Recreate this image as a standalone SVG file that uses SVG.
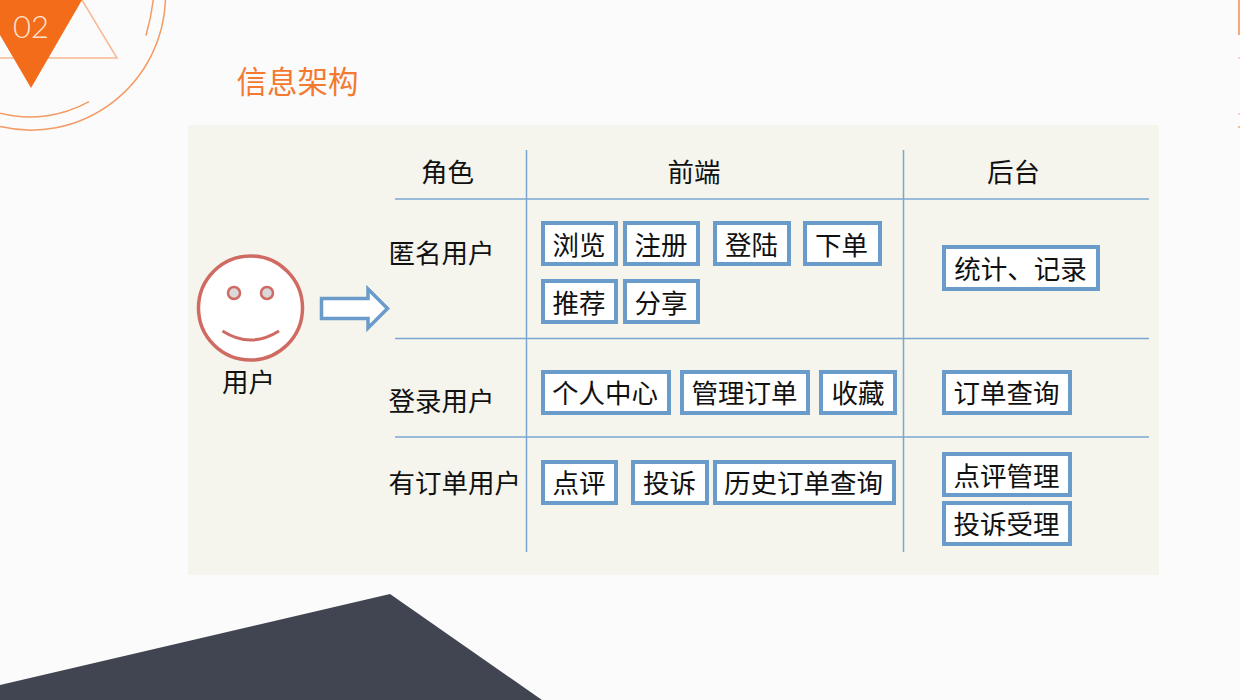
<svg xmlns="http://www.w3.org/2000/svg" width="1240" height="700" viewBox="0 0 1240 700">
<style>
text{font-family:"Noto Sans CJK SC","Noto Sans",sans-serif;fill:#111;font-size:26.500px}
.b{fill:#fff;stroke:#6a9ccb;stroke-width:4}
.l{stroke:#7ba6d2;stroke-width:1.500;fill:none}
.o{fill:none;stroke:#f49a64;stroke-width:1.500}
.m{text-anchor:middle}
</style>
<rect width="1240" height="700" fill="#fbfbfb"/>
<g id="decor">
<path class="o" d="M165.500 0A135 135 0 0 1 0 126.600"/>
<path class="o" d="M0 113.300A122 122 0 0 0 89 101.700M146 35.500Q151 18 153.300 0"/>
<path d="M82 0L117 58H0" fill="none" stroke="#f8b892" stroke-width="1.500"/>
<path d="M0 0H82L31 88L0 35Z" fill="#f36c1a"/>
<text x="31" y="38" class="m" style="font-family:Lato,'Open Sans',sans-serif;font-weight:300;font-size:31px;fill:#fde3d2">02</text>
<text x="236.500" y="93" style="font-size:30.500px;font-weight:400;fill:#f37a30">信息架构</text>
<rect x="1238" y="0" width="2" height="35" fill="#f8a877"/>
<rect x="1238" y="57" width="2" height="2" fill="#fad5c0"/>
<rect x="1238" y="113" width="2" height="2" fill="#fad5c0"/>
<rect x="1238" y="126" width="2" height="2" fill="#f8bd98"/>
<path d="M0 685L390 594L542 700H0Z" fill="#414551"/>
<rect x="188" y="125" width="971" height="450" fill="#f5f4ed"/>
</g>
<g id="connectors">
<path class="l" d="M395 199H1149M395 338.500H1149M395 437H1149M526.500 150V552M903.500 150V552"/>
<path d="M321.500 298.500H368V289L387.500 308.500L368 328V318.500H321.500Z" fill="#fff" stroke="#6a9ccb" stroke-width="3.500"/>
</g>
<g id="user">
<circle cx="250.500" cy="308" r="52" fill="#fff" stroke="#cf6b63" stroke-width="3.500"/>
<circle cx="234" cy="293" r="6" fill="#d9d9d9" stroke="#cf6b63" stroke-width="2.500"/>
<circle cx="267" cy="293" r="6" fill="#d9d9d9" stroke="#cf6b63" stroke-width="2.500"/>
<path d="M222.500 331Q250.500 349 279 331" fill="none" stroke="#cf6b63" stroke-width="3"/>
<text x="248.500" y="392" class="m">用户</text>
</g>
<g id="headers">
<text x="447.500" y="182" class="m">角色</text>
<text x="694" y="182" class="m">前端</text>
<text x="1013.500" y="182" class="m">后台</text>
<text x="388.500" y="263">匿名用户</text>
<text x="388.500" y="411">登录用户</text>
<text x="388.500" y="493">有订单用户</text>
</g>
<g id="n1"><rect class="b" x="543" y="223" width="73" height="41"/><text x="579" y="255" class="m">浏览</text></g>
<g id="n2"><rect class="b" x="625" y="223" width="73" height="41"/><text x="661" y="255" class="m">注册</text></g>
<g id="n3"><rect class="b" x="715" y="223" width="74" height="41"/><text x="751.500" y="255" class="m">登陆</text></g>
<g id="n4"><rect class="b" x="805" y="223" width="75" height="41"/><text x="841.500" y="255" class="m">下单</text></g>
<g id="n5"><rect class="b" x="543" y="281" width="73" height="41"/><text x="579" y="313" class="m">推荐</text></g>
<g id="n6"><rect class="b" x="625" y="281" width="73" height="41"/><text x="661" y="313" class="m">分享</text></g>
<g id="n7"><rect class="b" x="944" y="247" width="154" height="42"/><text x="1020.500" y="279" class="m">统计、记录</text></g>
<g id="n8"><rect class="b" x="543" y="372" width="126" height="41"/><text x="605" y="403" class="m">个人中心</text></g>
<g id="n9"><rect class="b" x="682" y="372" width="126" height="41"/><text x="744.500" y="403" class="m">管理订单</text></g>
<g id="n10"><rect class="b" x="821" y="372" width="74" height="41"/><text x="858" y="403" class="m">收藏</text></g>
<g id="n11"><rect class="b" x="944" y="372" width="126" height="41"/><text x="1006.500" y="403" class="m">订单查询</text></g>
<g id="n12"><rect class="b" x="543" y="462" width="73" height="41"/><text x="579" y="493" class="m">点评</text></g>
<g id="n13"><rect class="b" x="633" y="462" width="74" height="41"/><text x="669.500" y="493" class="m">投诉</text></g>
<g id="n14"><rect class="b" x="715" y="462" width="179" height="41"/><text x="803.500" y="493" class="m">历史订单查询</text></g>
<g id="n15"><rect class="b" x="944" y="454" width="126" height="41"/><text x="1006.500" y="486" class="m">点评管理</text></g>
<g id="n16"><rect class="b" x="944" y="503" width="126" height="41"/><text x="1006.500" y="534" class="m">投诉受理</text></g>
</svg>
